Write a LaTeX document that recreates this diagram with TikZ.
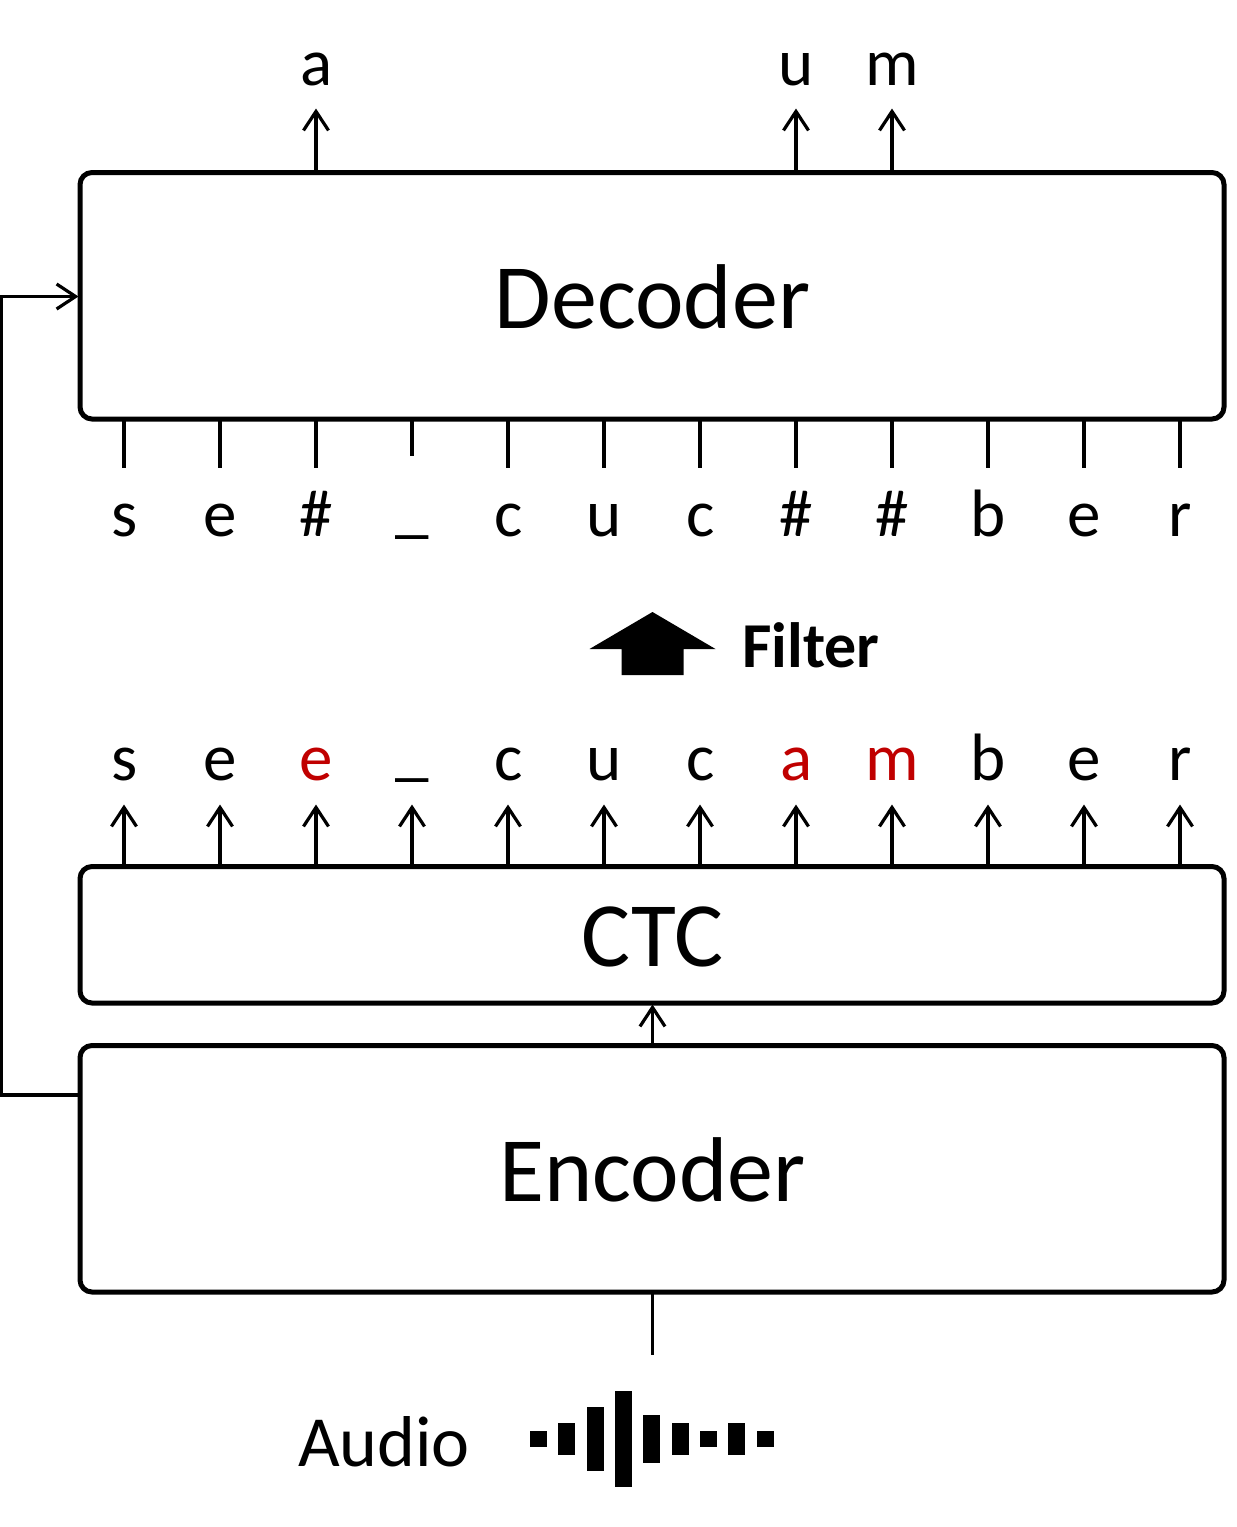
\documentclass[tikz,border=0pt]{standalone}
\usepackage{fontspec}
\setmainfont{Carlito}
\usetikzlibrary{arrows.meta}
\definecolor{wrongred}{HTML}{C00000}
\tikzset{
  blockbox/.style={draw=black,line width=5pt,rounded corners=12pt,inner sep=0pt,outer sep=0pt,anchor=north west},
  blocktext/.style={anchor=base,inner sep=0pt,font=\fontsize{92}{94}\selectfont},
  conn/.style={draw=black,line width=3.2pt},
  arr/.style={conn,-{Straight Barb[length=19pt,width=25pt,line width=3.2pt]}},
  letter/.style={anchor=base,inner sep=0pt,font=\fontsize{67}{70}\selectfont},
  bar/.style={fill=black,draw=none},
}
\begin{document}
\begin{tikzpicture}[x=1pt,y=-1pt]
\useasboundingbox (0,0) rectangle (1237,1527);
% blocks
\node[blockbox,minimum width=1144pt,minimum height=246.5pt] (dec) at (80,172.5) {};
\node[blockbox,minimum width=1144pt,minimum height=136.5pt] (ctc) at (80,866.5) {};
\node[blockbox,minimum width=1144pt,minimum height=246.5pt] (enc) at (80,1045.5) {};
\node[blocktext] (dect) at (652.5,328) {Decoder};
\node[blocktext] (ctct) at (652.5,966) {CTC};
\node[blocktext] (enct) at (652.5,1201) {Encoder};
% lower letter row (CTC output)
\foreach \n/\x/\t/\c/\b in {1/124/s/black/780,2/220/e/black/780,3/316/e/wrongred/780,4/412/\_/black/773,5/508/c/black/780,6/604/u/black/780,7/700/c/black/780,8/796/a/wrongred/780,9/892/m/wrongred/780,10/988/b/black/780,11/1084/e/black/780,12/1180/r/black/780}{
  \node[letter,text=\c] (ct\n) at (\x+0.5,\b) {\t};
  \coordinate (ctip\n) at (\x,804.5);
  \draw[arr] (ctc.north -| ctip\n) -- (ctip\n);
}
% filtered letter row (decoder input)
\foreach \n/\x/\t/\e/\b in {1/124/s/467.5/536,2/220/e/467.5/536,3/316/\#/467.5/536,4/412/\_/455.5/530,5/508/c/467.5/536,6/604/u/467.5/536,7/700/c/467.5/536,8/796/\#/467.5/536,9/892/\#/467.5/536,10/988/b/467.5/536,11/1084/e/467.5/536,12/1180/r/467.5/536}{
  \node[letter] (ft\n) at (\x+0.5,\b) {\t};
  \coordinate (fend\n) at (\x,\e);
  \draw[conn] (dec.south -| fend\n) -- (fend\n);
}
% decoder outputs
\foreach \n/\x/\t in {a/316/a,u/796/u,m/892/m}{
  \node[letter] (out\n) at (\x+0.5,85) {\t};
  \coordinate (otip\n) at (\x,108.5);
  \draw[arr] (dec.north -| otip\n) -- (otip\n);
}
% filter
\path[fill=black] (652.5,612) -- (715.5,649) -- (683.5,649) -- (683.5,675) -- (621.5,675) -- (621.5,649) -- (589.5,649) -- cycle;
\node[anchor=base west,inner sep=0pt,font=\fontsize{64}{66}\selectfont\bfseries] (filt) at (742,667) {Filter};
% encoder to CTC
\coordinate (ctcin) at (652.5,1004.5);
\draw[arr] (enc.north -| ctcin) -- (ctcin);
% encoder to decoder
\coordinate (bendb) at (1.5,1095);
\coordinate (bendt) at (1.5,296.5);
\draw[arr] (enc.west |- bendb) -- (bendb) -- (bendt) -- ([xshift=-1.5pt]dec.west |- bendt);
% audio
\coordinate (audiotop) at (652.5,1355);
\draw[conn] (enc.south -| audiotop) -- (audiotop);
\node[anchor=base west,inner sep=0pt,font=\fontsize{72}{74}\selectfont] (aud) at (298,1466) {Audio};
\foreach \xa/\ya/\yb in {530/1431/1447,558/1423/1455,587/1407/1471,615/1391/1487,643/1415/1463,672/1423/1455,700/1431/1447,728/1423/1455,757/1431/1447}{
  \path[bar] (\xa,\ya) rectangle (\xa+17,\yb);
}
\end{tikzpicture}
\end{document}
